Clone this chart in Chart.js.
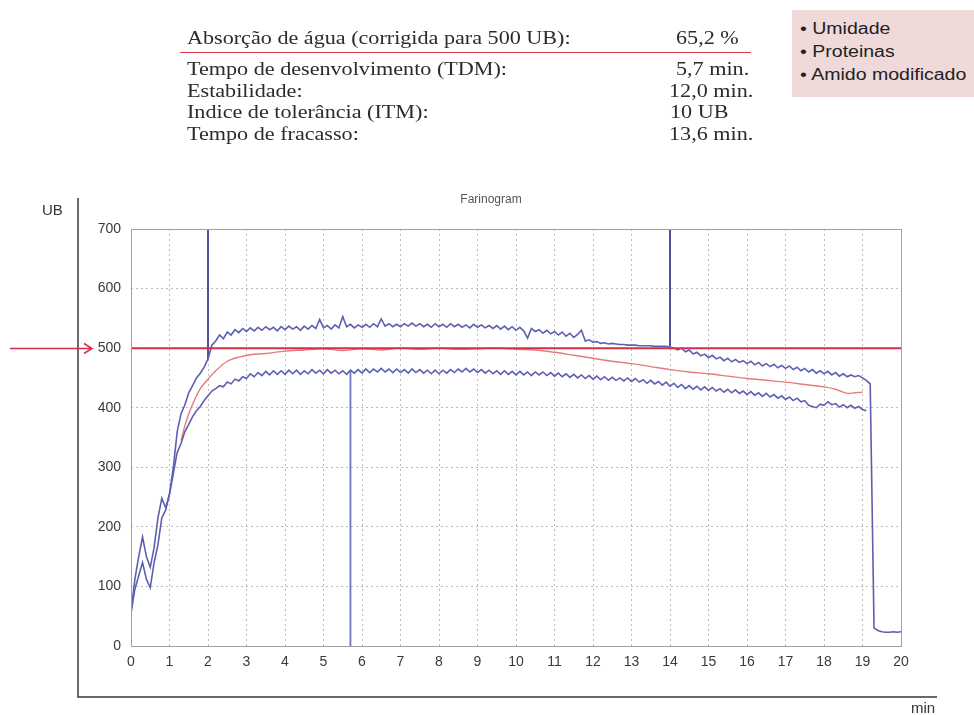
<!DOCTYPE html>
<html>
<head>
<meta charset="utf-8">
<script src="https://cdn.jsdelivr.net/npm/chart.js@4"></script>
<style>
  body { margin: 0; background: #fff; }
  #wrap { position: relative; width: 974px; height: 715px; overflow: hidden; }
  #chart { position: absolute; left: 0; top: 0; }
  .row { position: absolute; font-family: "Liberation Serif", "Times New Roman", serif; font-size: 18px; color: #2b2b2b; white-space: nowrap; line-height: 20px; transform: scaleX(1.23); transform-origin: left center; }
  .lab { left: 187px; }
  #rule { position: absolute; left: 180px; top: 52px; width: 571px; height: 0; border-top: 1.5px solid #d8364a; }
  #notes { position: absolute; left: 792px; top: 10px; width: 190px; height: 87px; background: #f0d9d9; }
  #notes div { position: absolute; left: 8px; white-space: nowrap; font-family: "Liberation Sans", Arial, sans-serif; font-size: 16px; color: #222; transform: scaleX(1.22); transform-origin: left center; }
</style>
</head>
<body>
<div id="wrap">
  <canvas id="chart" width="974" height="715"></canvas>

  <div class="row lab" style="top:28px">Absorção de água (corrigida para 500 UB):</div>
  <div class="row" style="top:28px; left:676px">65,2 %</div>
  <div id="rule"></div>
  <div class="row lab" style="top:59px">Tempo de desenvolvimento (TDM):</div>
  <div class="row" style="top:59px; left:676px">5,7 min.</div>
  <div class="row lab" style="top:81px">Estabilidade:</div>
  <div class="row" style="top:81px; left:669px">12,0 min.</div>
  <div class="row lab" style="top:102px">Indice de tolerância (ITM):</div>
  <div class="row" style="top:102px; left:670px">10 UB</div>
  <div class="row lab" style="top:124px">Tempo de fracasso:</div>
  <div class="row" style="top:124px; left:669px">13,6 min.</div>

  <div id="notes">
    <div style="top:10px">• Umidade</div>
    <div style="top:33px">• Proteinas</div>
    <div style="top:56px">• Amido modificado</div>
  </div>
</div>

<script>
// farinograph readings, one sample every 0.1 min
const sampleStep = 0.1;

const upperUB = [
  57, 112, 150, 183, 150, 132, 165, 215, 248, 232,
  255, 300, 360, 390, 405, 425, 437, 450, 458, 468,
  482, 505, 512, 522, 516, 527, 522, 531, 526, 533,
  528, 534, 529, 535, 530, 536, 531, 535, 529, 536,
  531, 537, 532, 536, 530, 537, 532, 538, 533, 548,
  534, 538, 532, 539, 534, 553, 536, 540, 534, 539,
  535, 540, 535, 541, 536, 549, 537, 541, 536, 540,
  536, 541, 537, 542, 537, 541, 536, 540, 535, 541,
  536, 540, 535, 541, 536, 540, 535, 539, 534, 540,
  535, 539, 534, 538, 533, 538, 532, 537, 531, 536,
  530, 535, 529, 517, 533, 528, 531, 525, 530, 524,
  528, 522, 527, 520, 525, 518, 523, 530, 512, 514,
  510, 511, 508, 509, 507, 508, 507, 506, 506, 505,
  505, 505, 504, 504, 504, 504, 503, 503, 503, 503,
  502, 500, 497, 500, 494, 497, 490, 493, 487, 490,
  484, 488, 482, 485, 479, 483, 477, 481, 476, 479,
  474, 478, 472, 476, 470, 474, 469, 473, 467, 471,
  466, 470, 464, 468, 462, 466, 460, 464, 458, 462,
  457, 461, 455, 459, 453, 457, 452, 455, 452, 454,
  450, 446, 440, 30, 26, 24, 23, 23, 24, 23,
  24
];

const lowerUB = [
  55, 95, 118, 140, 112, 98, 140, 170, 215, 228,
  255, 290, 325, 340, 360, 372, 385, 395, 402, 412,
  420, 428, 432, 437, 435, 443, 440, 448, 445, 452,
  449, 457, 452, 459, 454, 461, 455, 462, 456, 462,
  456, 463, 457, 463, 456, 462, 457, 464, 458, 463,
  457, 464, 458, 463, 457, 462, 456, 463, 458, 464,
  458, 465, 459, 465, 460, 466, 460, 465, 459, 465,
  459, 464, 458, 465, 459, 464, 458, 463, 457, 463,
  457, 463, 458, 464, 459, 465, 460, 466, 460, 465,
  459, 464, 458, 463, 457, 462, 456, 462, 456, 461,
  455, 461, 455, 460, 454, 460, 455, 460, 454, 459,
  453, 458, 452, 457, 451, 456, 450, 455, 449, 454,
  448, 453, 447, 452, 446, 451, 446, 450, 445, 450,
  444, 449, 443, 447, 441, 446, 440, 444, 438, 443,
  436, 441, 434, 439, 432, 437, 431, 436, 430, 435,
  429, 434, 428, 432, 426, 431, 425, 430, 424, 428,
  422, 427, 421, 425, 419, 424, 418, 422, 416, 420,
  414, 418, 412, 416, 410, 412, 404, 402, 400, 406,
  404, 410, 405, 407, 401, 405, 400, 404, 399, 402,
  397, 395
];

// mean curve (red)
const meanMin = [1.3, 1.4, 1.5, 1.65, 1.8, 2.0, 2.2, 2.5, 2.8, 3.1, 3.5, 4.0, 4.5, 5.0, 5.5, 6.0, 6.5, 7.0, 7.5, 8.0, 8.5, 9.0, 9.5, 10.0, 10.5, 11.0, 11.5, 12.0, 12.5, 13.0, 13.5, 14.0, 14.5, 15.0, 15.5, 16.0, 16.5, 17.0, 17.5, 18.0, 18.3, 18.6, 18.8, 19.0];
const meanUB = [345, 370, 390, 413, 432, 448, 462, 478, 485, 489, 491, 495, 497, 499, 496, 499, 497, 500, 498, 500, 498, 499, 500, 498, 497, 493, 488, 483, 478, 474, 469, 464, 460, 457, 453, 449, 446, 443, 439, 435, 431, 424, 425, 426];

// marker lines (development time, arrival, departure)
const markerMin = [2.0, 5.7, 14.0];
const markerFrom = [482, 462, 700];
const markerTo = [700, 0, 503];

const targetUB = 500;
const yTicks = [0, 100, 200, 300, 400, 500, 600, 700];

const toPoints = arr => arr.map((v, i) => ({ x: Math.round(i * sampleStep * 10) / 10, y: v }));

const envColor = '#5d60b0';
const markColor = '#3d4292';

const datasets = [
  {
    data: [{ x: 0, y: targetUB }, { x: 20, y: targetUB }],
    borderColor: '#d42f45', borderWidth: 2
  },
  { data: toPoints(upperUB), borderColor: envColor, borderWidth: 1.6 },
  { data: toPoints(lowerUB), borderColor: envColor, borderWidth: 1.6 },
  {
    data: meanMin.map((m, i) => ({ x: m, y: meanUB[i] })),
    borderColor: '#e57b80', borderWidth: 1.4, tension: 0.3
  }
];
markerMin.forEach((m, i) => {
  datasets.push({
    data: [{ x: m, y: markerFrom[i] }, { x: m, y: markerTo[i] }],
    borderColor: i === 1 ? '#7075c0' : markColor, borderWidth: 1.8
  });
});

const framePlugin = {
  id: 'frame',
  afterDraw(chart) {
    const ctx = chart.ctx;
    const a = chart.chartArea;
    const y = chart.scales.y;
    ctx.save();
    // plot border
    ctx.strokeStyle = '#a0a0a0';
    ctx.lineWidth = 1;
    ctx.strokeRect(a.left + 0.5, a.top + 0.5, a.right - a.left, a.bottom - a.top);
    // outer axes
    ctx.strokeStyle = '#3a3a3a';
    ctx.lineWidth = 1.5;
    ctx.beginPath();
    ctx.moveTo(78, 198);
    ctx.lineTo(78, 697);
    ctx.lineTo(937, 697);
    ctx.stroke();
    ctx.fillStyle = '#333';
    ctx.font = '15px "Liberation Sans", Arial, sans-serif';
    ctx.textBaseline = 'middle';
    ctx.textAlign = 'left';
    ctx.fillText('UB', 42, 211);
    ctx.fillText('min', 911, 709);
    // title
    ctx.fillStyle = '#555';
    ctx.font = '12px "Liberation Sans", Arial, sans-serif';
    ctx.textAlign = 'center';
    ctx.fillText('Farinogram', 491, 200);
    // arrow to 500 UB
    const yp = Math.round(y.getPixelForValue(targetUB)) + 0.5;
    ctx.strokeStyle = '#d42f45';
    ctx.lineWidth = 1.5;
    ctx.beginPath();
    ctx.moveTo(10, yp);
    ctx.lineTo(92, yp);
    ctx.moveTo(84, yp - 5);
    ctx.lineTo(92, yp);
    ctx.lineTo(84, yp + 5);
    ctx.stroke();
    ctx.restore();
  }
};

new Chart(document.getElementById('chart'), {
  type: 'line',
  data: { datasets: datasets },
  plugins: [framePlugin],
  options: {
    responsive: false,
    animation: false,
    layout: { padding: { left: 91, right: 73, top: 229, bottom: 45 } },
    elements: { point: { radius: 0 }, line: { tension: 0 } },
    plugins: { legend: { display: false }, tooltip: { enabled: false } },
    scales: {
      x: {
        type: 'linear', min: 0, max: 20,
        ticks: { stepSize: 1, padding: 8, color: '#3a3a3a', font: { family: '"Liberation Sans", Arial, sans-serif', size: 14 } },
        grid: { color: '#bcbcbc', drawTicks: false },
        border: { display: false, dash: [2, 3] },
        afterFit: s => { s.height = 24; }
      },
      y: {
        min: 0, max: 700,
        afterBuildTicks: s => { s.ticks = yTicks.map(v => ({ value: v })); },
        ticks: { padding: 10, color: '#3a3a3a', font: { family: '"Liberation Sans", Arial, sans-serif', size: 14 } },
        grid: { color: '#bcbcbc', drawTicks: false },
        border: { display: false, dash: [2, 3] },
        afterFit: s => { s.width = 40; }
      }
    }
  }
});
</script>
</body>
</html>
